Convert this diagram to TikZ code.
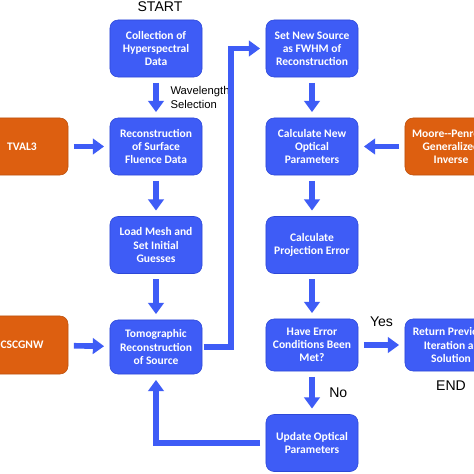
\documentclass[tikz,border=0pt]{standalone}
\usepackage{fontspec}
\setmainfont{Liberation Sans}
\newfontfamily\boxfont{Carlito}
\usetikzlibrary{arrows.meta}
\definecolor{boxblue}{RGB}{62,92,246}
\definecolor{boxline}{RGB}{45,72,215}
\definecolor{extorange}{RGB}{221,95,16}

\begin{document}
\begin{tikzpicture}[x=0.025cm, y=-0.025cm,
  proc/.style={rectangle, rounded corners=2mm, fill=boxblue, draw=boxline, text=white, align=center,
    minimum width=2.3cm, minimum height=1.425cm, inner sep=1pt, font=\boxfont\bfseries\fontsize{8.2}{9.3}\selectfont},
  ext/.style={proc, fill=extorange, draw=extorange!85!black},
  flow/.style={boxblue, line width=4pt, -{Triangle[width=11pt,length=8pt]}, shorten <=4pt, shorten >=4pt},
  lbl/.style={text=black, font=\fontsize{10}{12}\selectfont}]
\useasboundingbox (0,0) rectangle (474,474);
\fill[white] (0,0) rectangle (474,474);
\clip (0,0) rectangle (474,474);
\node[proc] (coll) at (156,48.5) {Collection of\\Hyperspectral\\Data};
\node[proc] (surf) at (156,146.5) {Reconstruction\\of Surface\\Fluence Data};
\node[proc] (mesh) at (156,245) {Load Mesh and\\Set Initial\\Guesses};
\node[proc, minimum height=1.35cm] (tomo) at (156,347) {Tomographic\\Reconstruction\\of Source};
\node[proc] (src) at (312,48.5) {Set New Source\\as FWHM of\\Reconstruction};
\node[proc] (optic) at (312,146.5) {Calculate New\\Optical\\Parameters};
\node[proc] (proj) at (312,245) {Calculate\\Projection Error};
\node[proc, minimum height=1.3cm] (test) at (312,345) {Have Error\\Conditions Been\\Met?};
\node[proc] (upd) at (312,443) {Update Optical\\Parameters};
\node[proc, minimum height=1.3cm] (ret) at (451,345) {Return Previous\\Iteration as\\Solution};
\node[ext] (tval) at (22,146.5) {TVAL3};
\node[ext, minimum height=1.45cm] (cscg) at (22,345) {CSCGNW};
\node[ext] (moore) at (451,146.5) {Moore--Penrose\\Generalized\\Inverse};
\node[lbl] (start) at (160,7) {START};
\node[lbl, below=3.5pt] (end) at (ret.south) {END};
\draw[flow] (coll) -- node[lbl, right=5pt, align=left, font=\fontsize{8}{9.5}\selectfont]{Wavelength\\Selection} (surf);
\draw[flow] (surf) -- (mesh);
\draw[flow] (mesh) -- (tomo);
\draw[flow] (tval) -- (surf);
\draw[flow] (cscg) -- (tomo);
\draw[flow, shorten <=1pt] (tomo.east) -- ++(29,0) |- (src.west);
\draw[flow] (src) -- (optic);
\draw[flow] (moore) -- (optic);
\draw[flow] (optic) -- (proj);
\draw[flow] (proj) -- (test);
\draw[flow] (test) -- node[lbl, above=8pt]{Yes} (ret);
\draw[flow] (test) -- node[lbl, right=7pt]{No} (upd);
\draw[flow] (upd.west) -| (tomo.south);
\end{tikzpicture}
\end{document}
